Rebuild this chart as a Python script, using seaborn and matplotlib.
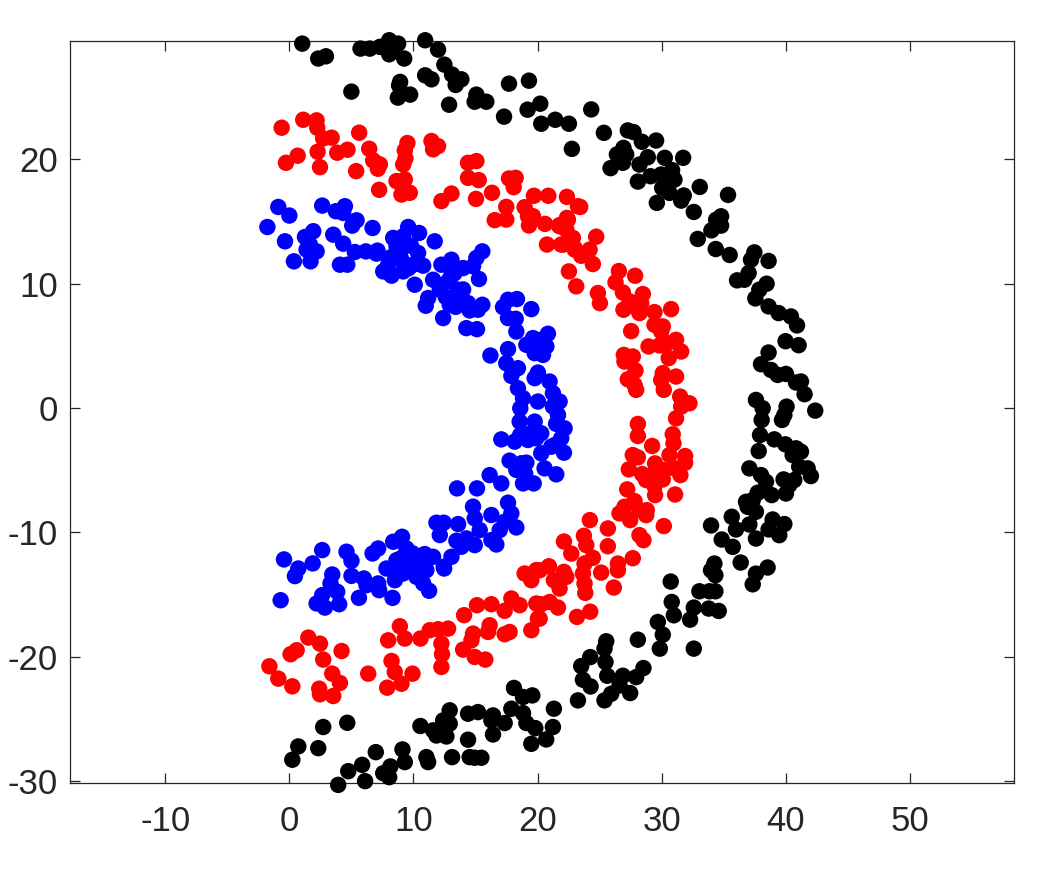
import numpy as np
import pandas as pd
import matplotlib
matplotlib.use("Agg")
import matplotlib.pyplot as plt
import seaborn as sns

black_pts = [
(1.03,29.36),(2.32,28.16),(2.94,28.34),(5.73,28.96),(6.48,28.96),(7.29,29.1),(8.04,29.63),(8.04,28.5),(8.76,29.36),(8.36,29.04),
(9.25,28.16),(10.94,29.63),(11.98,28.88),(12.49,27.67),(13.11,26.87),(13.86,26.49),(13.4,26.04),(10.94,26.81),(11.45,26.49),(8.92,26.28),
(8.84,26),(9.73,25.26),(8.74,25.02),(4.99,25.5),(12.87,24.45),(15.07,25.26),(14.93,24.69),(15.87,24.69),(17.7,26.14),(19.31,26.38),
(20.22,24.53),(19.2,24.05),(17.3,23.49),(20.3,22.92),(21.43,23.24),(22.53,22.92),(24.33,24.07),(25.35,22.19),(22.77,20.9),(27.28,22.38),
(27.74,22.25),(28.41,21.47),(29.56,21.57),(26.93,20.98),(26.4,20.45),(27.15,20.45),(26.88,19.78),(25.89,19.35),(28.89,20.23),(28.22,19.64),
(30.26,20.18),(31.74,20.18),(30.85,19.19),(29.11,18.7),(28.09,18.27),(29.97,18.84),(31.04,18.43),(30.05,17.76),(30.64,17.36),(33.08,17.84),
(31.79,17.15),(31.58,16.74),(29.62,16.56),(35.36,17.2),(32.6,15.83),(34.8,15.48),(34.4,15.2),(34.8,14.73),(34.02,14.35),(32.92,13.66),
(34.37,12.85),(35.49,12.37),(37.48,12.58),(37.21,11.99),(38.63,11.89),(37.02,10.92),(36.09,10.33),(36.68,10.38),(38.47,10.06),(37.88,9.58),
(37.56,8.88),(38.63,8.24),(39.44,7.7),(40.43,7.43),(40.92,6.71),(40.0,5.44),(41.05,5.12),(38.63,4.53),(38.02,3.59),(38.82,3.13),
(39.36,2.73),(40.03,2.81),(40.84,2.12),(41.24,2.2),(41.53,1.18),(37.61,0.72),(38.15,0.05),(40.08,0.18),(42.39,-0.14),(38.07,-0.89),
(39.71,-0.89),(39.9,-0.49),(37.94,-2.1),(39.09,-2.45),(37.83,-3.39),(39.98,-2.85),(40.84,-3.17),(41.24,-3.44),(40.57,-3.71),(37.08,-4.78),
(38.02,-5.32),(38.42,-5.86),(41.1,-4.65),(41.78,-4.78),(42.04,-5.4),(39.84,-5.67),(40.7,-5.72),(40.3,-6.12),(40.03,-6.8),(38.88,-6.93),
(37.75,-6.74),(36.81,-7.47),(37.35,-7.33),(36.94,-7.87),(37.61,-8.27),(35.66,-8.67),(33.99,-9.37),(36.0,-9.69),(37.08,-9.29),(38.96,-8.89),
(39.9,-9.26),(38.63,-9.69),(39.49,-10.15),(37.61,-10.42),(34.85,-10.5),(35.74,-11.09),(36.38,-12.35),(34.26,-12.43),(33.99,-12.97),(34.34,-13.37),
(38.55,-12.75),(37.61,-13.24),(37.35,-14.1),(30.74,-13.88),(33.05,-14.66),(33.86,-14.66),(34.34,-14.66),(30.82,-15.52),(30.99,-16.59),(32.6,-15.97),
(32.3,-16.94),(33.8,-16.05),(34.61,-16.24),(29.7,-17.13),(30.1,-18.15),(29.86,-19.27),(32.6,-19.27),(28.09,-18.55),(25.54,-18.68),(25.4,-19.27),
(25.48,-20.35),(24.25,-19.95),(23.52,-20.67),(25.62,-21.45),(23.66,-21.77),(24.28,-22.31),(28.54,-20.83),(27.95,-21.56),(26.88,-21.45),(26.61,-22.23),
(27.47,-22.84),(25.94,-22.9),(23.26,-23.43),(25.4,-23.43),(18.1,-22.43),(18.83,-23.16),(19.58,-23.03),(17.89,-24.1),(18.83,-24.45),(19.1,-25.25),
(19.82,-25.66),(21.32,-24.1),(21.24,-25.57),(20.7,-26.57),(19.5,-26.92),(16.41,-24.64),(16.28,-25.04),(17.35,-25.25),(16.41,-26.17),(14.4,-24.5),
(15.2,-24.37),(12.92,-24.23),(12.92,-25.3),(12.39,-25.04),(10.56,-25.49),(11.58,-25.84),(12.25,-25.71),(11.85,-26.25),(12.65,-26.33),(14.4,-26.59),
(9.11,-27.37),(9.3,-28.39),(11.04,-27.99),(11.18,-28.39),(13.11,-27.99),(14.53,-27.99),(14.93,-28.04),(15.47,-28.04),(6.96,-27.59),(8.14,-28.74),
(7.56,-29.28),(8.04,-29.6),(5.86,-28.61),(4.74,-29.12),(6.1,-29.92),(3.93,-30.22),(4.66,-25.23),(2.72,-25.57),(2.32,-27.27),(0.71,-27.13),(0.23,-28.2),
]

red_pts = [
(-0.63,22.6),(1.11,23.24),(2.19,23.19),(2.24,22.6),(2.72,21.74),(3.4,21.8),(5.62,22.2),(2.27,20.67),(0.66,20.35),(-0.28,19.78),
(2.46,19.43),(3.85,20.59),(4.68,20.83),(5.38,19.11),(6.43,20.91),(6.75,19.97),(7.29,19.65),(7.13,19.3),(9.51,21.37),(9.3,20.78),
(9.35,20.13),(9.17,19.65),(7.23,17.61),(8.63,18.31),(9.3,18.44),(9.03,17.23),(9.7,17.37),(11.45,21.53),(11.98,21.12),(11.58,20.86),
(12.25,16.7),(13.06,17.31),(14.4,19.78),(15.07,19.92),(14.4,18.57),(15.26,18.39),(15.04,16.88),(16.33,17.37),(17.7,18.52),(18.24,18.57),
(18.08,17.82),(17.48,16.24),(16.55,15.17),(17.48,15.22),(18.96,16.21),(19.23,15.49),(19.63,15.49),(19.31,14.74),(19.71,17.13),(20.87,17.13),
(20.6,14.87),(21.73,14.74),(20.76,13.21),(21.91,13.21),(22.37,17.04),(23.26,16.29),(22.45,15.21),(21.91,14.81),(22.85,13.74),(23.0,12.8),
(22.53,11.05),(23.12,9.85),(23.44,16.23),(22.37,15.35),(21.78,14.68),(22.32,14.41),(22.05,13.2),(22.64,13.6),(22.99,12.93),(23.52,12.31),
(24.2,12.8),(24.73,13.84),(24.46,11.64),(24.87,9.31),(25.03,8.5),(26.56,11.08),(27.87,10.7),(26.29,10.17),(26.88,9.36),(28.49,9.23),
(27.42,8.64),(28.36,8.5),(26.93,7.97),(27.82,8.24),(28.22,7.7),(29.43,7.78),(30.77,8.02),(29.43,6.76),(30.1,6.63),(29.97,6.22),
(27.55,6.25),(28.95,5.02),(29.83,5.1),(30.5,5.28),(31.17,5.55),(31.58,4.61),(30.58,4.08),(26.96,4.34),(27.68,4.21),(27.01,3.81),
(27.9,3.08),(27.28,2.38),(27.82,1.93),(27.95,1.53),(30.1,2.87),(31.17,2.6),(29.97,2.33),(30.18,1.53),(31.5,0.99),(32.25,0.45),
(31.58,0.18),(31.17,-0.76),(28.09,-1.21),(28.09,-2.18),(30.9,-2.04),(30.96,-2.77),(29.24,-2.98),(30.64,-3.71),(31.9,-3.79),(31.9,-4.33),
(27.68,-3.71),(28.09,-3.9),(29.48,-4.38),(27.36,-4.86),(28.44,-5.24),(29.56,-4.92),(30.23,-4.92),(31.04,-4.78),(31.52,-5.32),(28.76,-5.72),
(30.1,-5.67),(29.43,-6.2),(29.48,-6.93),(31.09,-6.88),(27.23,-6.47),(27.82,-7.41),(27.01,-7.87),(26.61,-8.4),(27.47,-8.94),(28.22,-8.14),
(28.81,-8.14),(28.76,-8.54),(30.18,-9.42),(24.22,-8.94),(25.67,-9.61),(28.22,-10.15),(28.54,-10.55),(23.74,-10.2),(23.93,-10.95),(25.67,-11.04),
(22.13,-10.66),(22.72,-11.63),(27.68,-12.0),(24.46,-11.97),(23.79,-12.43),(26.48,-12.43),(26.48,-12.97),(25.13,-13.16),(23.66,-13.24),(23.79,-14.04),
(23.85,-14.79),(26.15,-14.36),(20.92,-12.65),(20.17,-12.97),(22.13,-13.1),(22.32,-13.5),(21.32,-13.77),(21.78,-14.44),(20.98,-15.52),(21.65,-15.97),
(20.3,-15.7),(20.17,-16.86),(23.18,-16.72),(24.25,-16.3),(18.96,-13.23),(19.5,-13.77),(19.9,-12.96),(17.89,-15.24),(18.56,-15.78),(17.35,-16.23),
(19.9,-15.64),(20.03,-16.85),(19.5,-17.79),(16.28,-15.7),(15.12,-15.78),(14.08,-16.58),(16.14,-17.39),(16.01,-17.93),(17.75,-17.93),(17.35,-18.11),
(14.8,-18.06),(14.67,-18.6),(14.0,-19.35),(14.94,-19.94),(15.79,-20.15),(12.79,-17.66),(11.98,-17.71),(11.31,-17.79),(10.56,-18.46),(8.9,-17.47),
(9.3,-18.46),(7.96,-18.6),(12.25,-18.87),(12.3,-19.72),(12.25,-20.74),(8.23,-20.26),(8.49,-21.15),(9.92,-21.28),(9.03,-22.09),(7.88,-22.41),
(6.35,-21.28),(1.52,-18.38),(2.46,-18.87),(4.2,-19.46),(0.58,-19.4),(0.09,-19.72),(2.72,-20.15),(-1.62,-20.69),(-0.9,-21.68),(0.23,-22.3),
(3.45,-21.28),(4.07,-22.03),(2.4,-22.49),(2.46,-22.94),(3.53,-23.08),
]

blue_pts = [
(-0.9,16.23),(-0.01,15.54),(-1.78,14.62),(2.64,16.34),(4.47,16.29),(3.74,15.89),(4.33,15.75),(5.41,15.16),(5.06,14.73),(6.7,14.54),
(-0.36,13.47),(1.92,14.28),(1.25,13.82),(1.65,13.2),(1.38,12.8),(2.19,12.66),(0.36,11.86),(1.7,11.86),(3.53,14.0),(4.33,13.28),
(4.07,11.59),(4.66,11.59),(5.27,12.61),(6.16,12.66),(7.1,12.72),(7.02,12.48),(8.36,13.74),(9.57,14.62),(10.45,14.14),(9.17,13.87),
(11.71,13.47),(8.63,13.07),(9.03,11.99),(10.37,12.53),(10.78,11.51),(7.56,11.05),(8.23,10.71),(7.96,11.59),(9.17,11.05),(10.1,9.98),
(9.97,11.59),(12.25,11.59),(13.06,11.99),(14.0,11.32),(15.07,12.13),(15.55,12.66),(14.8,11.46),(15.28,10.44),(11.58,10.38),(12.79,10.25),
(13.59,9.58),(12.12,9.58),(11.18,8.91),(10.99,8.29),(12.92,8.37),(12.39,7.3),(14.4,8.5),(14.53,7.91),(15.55,8.37),(15.2,7.97),
(14.26,6.49),(15.12,6.41),(13.86,8.91),(18.34,8.83),(17.62,8.77),(17.22,8.18),(19.5,8.02),(17.62,7.3),(18.24,7.24),(18.29,6.22),
(19.63,5.69),(20.84,6.04),(19.1,5.15),(20.71,5.02),(19.77,4.48),(20.44,4.34),(17.62,4.8),(16.2,4.29),(17.48,3.67),(18.42,3.27),
(17.89,2.65),(20.03,2.92),(19.77,2.47),(20.97,2.2),(18.42,1.66),(18.83,0.86),(21.24,1.26),(21.78,0.59),(20.03,0.59),(21.24,0.19),
(18.61,0.05),(21.65,-0.49),(18.56,-1.02),(19.77,-1.02),(22.18,-1.56),(20.3,-1.96),(21.91,-2.36),(17.08,-2.45),(18.16,-2.63),(19.23,-2.5),
(19.9,-2.36),(21.11,-3.04),(20.3,-3.57),(22.13,-3.52),(17.75,-4.16),(19.1,-4.32),(18.42,-4.78),(20.57,-4.78),(21.51,-5.26),(16.14,-5.32),
(17.08,-5.99),(18.83,-5.99),(19.69,-5.99),(13.51,-6.39),(15.12,-6.39),(18.7,-4.37),(18.29,-4.9),(17.62,-7.54),(14.8,-7.86),(16.28,-8.53),
(17.89,-8.4),(14.94,-8.8),(11.85,-9.15),(12.44,-9.15),(13.6,-9.26),(12.12,-10.14),(15.34,-9.74),(18.29,-9.53),(16.95,-9.74),(17.35,-9.07),
(14.27,-10.41),(13.46,-10.6),(13.86,-11.08),(14.94,-10.95),(16.68,-10.9),(16.28,-10.55),(13.06,-11.89),(10.91,-11.67),(11.58,-11.89),(10.91,-12.42),
(12.44,-12.69),(12.47,-12.83),(9.08,-10.28),(8.36,-10.68),(7.15,-11.22),(6.7,-11.62),(9.43,-11.22),(10.78,-11.75),(9.7,-12.42),(11.04,-12.96),
(7.82,-12.83),(8.63,-12.16),(9.16,-13.23),(10.24,-13.5),(10.78,-14.03),(11.26,-14.62),(8.5,-13.77),(8.31,-15.19),(7.23,-14.57),(7.15,-14.03),
(6.0,-13.63),(5.6,-15.19),(6.21,-14.17),(5.0,-13.42),(4.6,-11.48),(5.0,-12.21),(2.64,-11.35),(1.87,-12.42),(0.71,-12.83),(0.44,-13.44),
(-0.44,-12.1),(-0.71,-15.38),(3.45,-13.31),(3.31,-14.03),(3.85,-14.7),(4.01,-15.7),(2.64,-14.97),(2.19,-15.64),(2.86,-15.97),
# dense cores of the blue band
(8.9,12.6),(9.8,13.1),(8.2,12.2),(9.6,11.3),(13.3,10.9),(12.6,9.0),(13.4,8.2),(14.0,9.6),(13.0,10.6),(19.6,5.0),(20.1,5.4),(20.4,5.6),
(19.4,-2.0),(18.6,-2.1),(21.4,-2.9),(21.5,-1.2),(19.0,-5.2),(9.9,-11.6),(10.2,-12.2),(9.0,-12.0),(8.9,-12.7),(9.6,-13.0),(10.2,-12.8),
]

x_ticks = [-10, 0, 10, 20, 30, 40, 50]
y_ticks = [-30, -20, -10, 0, 10, 20]

groups = {"black": black_pts, "red": red_pts, "blue": blue_pts}
df = pd.DataFrame(
    [(px, py - 0.07, g) for g, pts in groups.items() for px, py in pts],
    columns=["x", "y", "group"],
)

sns.set_style("white")
plt.rcParams["font.family"] = ["Liberation Sans", "DejaVu Sans"]
plt.rcParams["axes.unicode_minus"] = False

W, H = 1047, 875
fig = plt.figure(figsize=(W / 100, H / 100), dpi=100, facecolor="white")
ax = fig.add_axes([70.3 / W, 1 - 783.0 / H, (1013.8 - 70.3) / W, (783.0 - 41.0) / H])

sns.scatterplot(
    data=df, x="x", y="y", hue="group",
    palette={"black": "#000000", "red": "#ff0000", "blue": "#0000ff"},
    hue_order=["black", "red", "blue"],
    s=140, marker="o", linewidth=0, legend=False, ax=ax, clip_on=False, zorder=3,
)

ax.set_xlim(-17.67, 58.4)
ax.set_ylim(-30.14, 29.5)
ax.set_xlabel("")
ax.set_ylabel("")
ax.set_xticks(x_ticks)
ax.set_yticks(y_ticks)
ax.tick_params(axis="both", direction="in", length=7.2, width=0.9, color="#262626",
               top=True, right=True, bottom=True, left=True,
               labelsize=25, labelcolor="#262626")
ax.tick_params(axis="x", pad=15.5)
ax.tick_params(axis="y", pad=9)
for sp in ax.spines.values():
    sp.set_visible(True)
    sp.set_color("#262626")
    sp.set_linewidth(0.9)

fig.savefig("out.png", dpi=100, facecolor="white")
